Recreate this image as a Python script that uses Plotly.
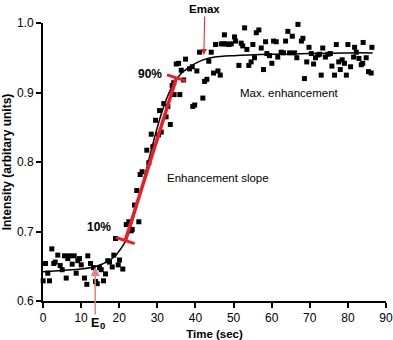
import plotly.graph_objects as go

# Measured signal intensity over time
time_s = [0.05, 0.66, 1.26, 1.71, 2.31, 2.83, 3.20, 3.88, 4.51, 5.04, 5.64, 6.09, 6.50, 6.96,
          7.66, 8.19, 8.71, 9.13, 9.58, 10.03, 10.89, 11.50, 11.76, 12.47, 13.25, 13.78, 14.23,
          14.83, 15.28, 15.88, 16.40, 17.00, 17.45, 18.16, 18.58, 19.03, 19.74, 20.08, 20.94,
          21.84, 22.52, 23.15, 23.41, 24.00, 24.60, 25.14, 25.50, 26.00, 27.24, 27.77, 28.40,
          28.82, 29.53, 30.30, 30.58, 31.02, 31.70, 32.30, 32.76, 33.40, 33.90, 34.30, 34.40,
          34.97, 35.57, 35.90, 36.27, 36.90, 37.40, 38.45, 39.16, 39.30, 39.80, 40.37, 41.08,
          41.94, 42.40, 43.00, 43.50, 44.15, 44.75, 45.28, 45.90, 46.50, 46.77, 47.38, 47.60,
          48.08, 48.77, 49.40, 50.26, 50.50, 51.40, 52.00, 52.40, 52.90, 53.50, 54.00, 54.60,
          55.07, 55.50, 55.96, 56.64, 57.27, 57.87, 58.40, 58.74, 59.45, 60.05, 60.50, 61.20,
          61.60, 62.50, 63.10, 63.65, 64.25, 64.70, 65.40, 66.00, 66.60, 66.90, 67.80, 68.20,
          68.60, 69.20, 69.80, 70.40, 71.00, 71.50, 72.10, 72.60, 73.00, 73.40, 74.10, 74.75,
          75.40, 75.80, 76.50, 76.96, 77.60, 78.00, 78.50, 79.10, 79.60, 80.00, 80.70, 81.50,
          81.76, 82.20, 82.90, 83.50, 83.90, 84.00, 84.80, 85.40, 86.10, 86.30]
intensity = [0.629, 0.654, 0.640, 0.629, 0.675, 0.654, 0.656, 0.666, 0.651, 0.645, 0.665, 0.633,
             0.661, 0.665, 0.653, 0.665, 0.640, 0.658, 0.661, 0.652, 0.633, 0.624, 0.665, 0.654,
             0.648, 0.628, 0.625, 0.648, 0.645, 0.629, 0.639, 0.658, 0.656, 0.649, 0.666, 0.690,
             0.652, 0.659, 0.646, 0.710, 0.714, 0.701, 0.703, 0.738, 0.759, 0.714, 0.782, 0.786,
             0.817, 0.799, 0.840, 0.822, 0.860, 0.839, 0.874, 0.843, 0.884, 0.865, 0.880, 0.854,
             0.910, 0.914, 0.897, 0.941, 0.942, 0.897, 0.932, 0.918, 0.948, 0.934, 0.937, 0.880,
             0.882, 0.931, 0.958, 0.892, 0.916, 0.919, 0.945, 0.958, 0.928, 0.969, 0.931, 0.925,
             0.970, 0.970, 0.983, 0.970, 0.969, 0.970, 0.980, 0.974, 0.939, 0.971, 0.967, 0.993,
             0.962, 0.939, 0.944, 0.969, 0.950, 0.986, 0.990, 0.964, 0.933, 0.973, 0.956, 0.953,
             0.942, 0.974, 0.973, 0.951, 0.958, 0.957, 0.974, 0.988, 0.957, 0.981, 0.957, 0.950,
             0.998, 0.974, 0.978, 0.920, 0.944, 0.965, 0.956, 0.941, 0.950, 0.954, 0.955, 0.925,
             0.964, 0.951, 0.955, 0.956, 0.938, 0.925, 0.969, 0.944, 0.933, 0.947, 0.942, 0.925,
             0.969, 0.937, 0.951, 0.965, 0.958, 0.949, 0.940, 0.942, 0.972, 0.950, 0.930, 0.928,
             0.965]

# Fitted enhancement curve
fit_time = [0, 5, 10, 14, 17, 19, 20, 21, 22, 24, 26, 28, 30, 32, 34, 36, 38, 40, 42, 45,
            50, 60, 70, 80, 86.5]
fit_intensity = [0.642, 0.644, 0.646, 0.650, 0.657, 0.665, 0.672, 0.680, 0.690, 0.725, 0.765,
                 0.808, 0.850, 0.885, 0.910, 0.926, 0.935, 0.942, 0.947, 0.951, 0.953, 0.955,
                 0.956, 0.957, 0.957]

# Enhancement slope between the 10% and 90% points
slope_time = [21.6, 35.0]
slope_intensity = [0.687, 0.921]

# Onset (E0) and maximum (Emax) markers
e0_time, e0_intensity = 13.7, 0.649
emax_time, emax_intensity = 42.2, 0.954

x_ticks = [0, 10, 20, 30, 40, 50, 60, 70, 80, 90]
y_ticks = [0.6, 0.7, 0.8, 0.9, 1.0]

FONT = "Liberation Sans"
RED = "#ee1c24"

fig = go.Figure()

fig.add_trace(go.Scatter(
    x=time_s, y=intensity, mode="markers",
    marker=dict(symbol="square", size=5, color="black", line=dict(width=0)),
    showlegend=False, cliponaxis=False,
))

fig.add_trace(go.Scatter(
    x=fit_time, y=fit_intensity, mode="lines",
    line=dict(color="black", width=1.5, shape="spline", smoothing=0.8),
    showlegend=False,
))

fig.add_trace(go.Scatter(
    x=slope_time, y=slope_intensity, mode="lines+markers",
    line=dict(color=RED, width=3.5),
    marker=dict(symbol="line-ew", size=14, angle=18, color=RED,
                line=dict(color=RED, width=3)),
    showlegend=False, cliponaxis=False,
))

# E0 arrow with label below the axis (subscript drawn as its own small label)
fig.add_annotation(
    x=e0_time, y=e0_intensity, xref="x", yref="y",
    text="<b>E</b>", showarrow=True,
    ax=0, ay=56, arrowhead=2, arrowsize=1.2, arrowwidth=1.5, arrowcolor="#e88080",
    standoff=0, font=dict(family=FONT, size=12.5, color="black"),
)
fig.add_annotation(
    x=e0_time, y=e0_intensity, xref="x", yref="y",
    text="<b>0</b>", showarrow=False, xshift=7, yshift=-59,
    font=dict(family=FONT, size=9.5, color="black"),
)

# Emax arrow with label above
fig.add_annotation(
    x=emax_time, y=emax_intensity, xref="x", yref="y",
    text="<b>Emax</b>", showarrow=True,
    ax=1, ay=-46, arrowhead=2, arrowsize=1.2, arrowwidth=1, arrowcolor=RED,
    standoff=0, font=dict(family=FONT, size=11.5, color="black"),
)

fig.add_annotation(x=28.2, y=0.926, xref="x", yref="y", text="<b>90%</b>",
                   showarrow=False, font=dict(family=FONT, size=12, color="black"))
fig.add_annotation(x=14.7, y=0.707, xref="x", yref="y", text="<b>10%</b>",
                   showarrow=False, font=dict(family=FONT, size=12, color="black"))
fig.add_annotation(x=64.6, y=0.899, xref="x", yref="y", text="Max. enhancement",
                   showarrow=False, font=dict(family=FONT, size=11.5, color="black"))
fig.add_annotation(x=46.0, y=0.777, xref="x", yref="y", text="Enhancement slope",
                   showarrow=False, font=dict(family=FONT, size=11.5, color="black"))

axis_common = dict(
    showline=True, linecolor="black", linewidth=2,
    ticks="outside", ticklen=5, tickwidth=1.5, tickcolor="black",
    showgrid=False, zeroline=False, automargin=False,
    tickfont=dict(family=FONT, size=12, color="black"),
)

fig.update_layout(
    width=393, height=340,
    margin=dict(l=43, r=7, t=23, b=39),
    plot_bgcolor="white", paper_bgcolor="white",
    xaxis=dict(range=[0, 90], tickvals=x_ticks, ticktext=[str(v) for v in x_ticks],
               title=dict(text="<b>Time (sec)</b>", standoff=8,
                          font=dict(family=FONT, size=11.5, color="black")),
               **axis_common),
    yaxis=dict(range=[0.6, 1.0], tickvals=y_ticks, ticktext=[f"{v:.1f}" for v in y_ticks],
               title=dict(text="<b>Intensity (arbitary units)</b>", standoff=6,
                          font=dict(family=FONT, size=12, color="black")),
               **axis_common),
)

fig.write_html("out.html")
